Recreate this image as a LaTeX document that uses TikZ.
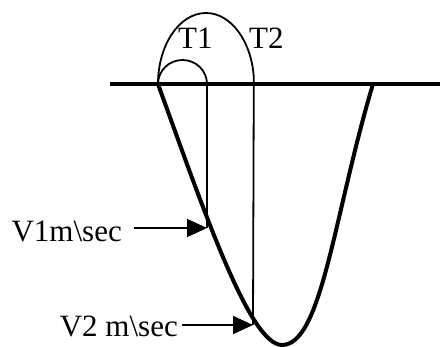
\documentclass[tikz,border=0pt]{standalone}
\usepackage{fontspec}
\setmainfont{Liberation Serif}
\usetikzlibrary{arrows.meta}
\begin{document}
\begin{tikzpicture}[x=1pt,y=-1pt,
  thickline/.style={line width=4pt},
  thinline/.style={line width=1.8pt},
  lbl/.style={inner sep=0pt,font=\fontsize{31}{37}\selectfont},
  pointer/.style={line width=1.8pt,-{Triangle[length=20pt,width=18pt]}}]
\useasboundingbox (0,0) rectangle (440,347);
% coordinates
\coordinate (L) at (110,84);
\coordinate (R) at (440,84);
\coordinate (A) at (158,84);
\coordinate (B) at (282,345);
\coordinate (C) at (373,84);
\coordinate (P1) at (207,228);
\coordinate (P2) at (253,325);
\coordinate (Q1) at (207,84);
\coordinate (Q2) at (253.8,78);
% ground line
\draw[thickline] (L) -- (R);
% curve
\draw[thickline] (A) .. controls (205,214) and (250,345) .. (B)
  .. controls (322,345) and (334,214) .. (C);
% verticals
\draw[thinline] (Q1) -- (P1);
\draw[thinline] (Q2) -- (P2);
% arcs
\draw[thinline] (A) arc[start angle=180,end angle=360,x radius=24.5,y radius=24];
\draw[thinline] (A) arc[start angle=180,end angle=355,x radius=48,y radius=71];
% labels
\node[lbl,anchor=base west] (T1) at (178,49) {T1};
\node[lbl,anchor=base west] (T2) at (249,49) {T2};
\node[lbl,anchor=base east] (V1) at (122,242) {V1m\textbackslash sec};
\node[lbl,anchor=base east] (V2) at (178,337) {V2 m\textbackslash sec};
% pointers
\draw[pointer] (V1.east |- P1) ++(12,0) -- (P1);
\draw[pointer] (V2.east |- P2) ++(4,0) -- (P2);
\end{tikzpicture}
\end{document}
